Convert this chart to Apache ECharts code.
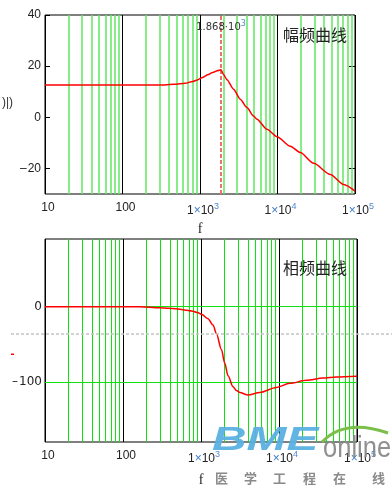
<!DOCTYPE html>
<html><head><meta charset="utf-8">
<script src="https://cdn.jsdelivr.net/npm/echarts@6/dist/echarts.min.js"></script>
<style>html,body{margin:0;padding:0;background:#fff}#c{width:392px;height:488px}</style>
</head><body><div id="c"></div>
<script>
// ---- data ----
const freqMag = [10, 300, 464, 644, 805, 920, 1084, 1258, 1459, 1667, 1868, 2000, 2228, 2710, 3305, 4036, 4913, 5430, 7315, 9860, 14640, 19710, 29300, 48100, 71400, 100000];
const magDb   = [12.6, 12.6, 12.9, 13.3, 14.0, 14.6, 15.6, 16.6, 17.5, 18.2, 18.6, 16.8, 14.7, 11.0, 7.1, 3.8, 0.5, -0.8, -4.7, -7.6, -11.3, -13.8, -18.0, -22.4, -26.3, -28.9];
const freqPh  = [10, 164, 295, 474, 617, 759, 906, 1012, 1230, 1426, 1575, 1827, 2015, 2220, 2572, 2850, 3133, 4005, 5660, 9270, 13720, 22440, 36640, 54450, 100000];
const phaseDeg= [0, 0, -1.4, -2.7, -4.4, -5.7, -7.9, -10, -16, -24.4, -35.7, -57, -75, -92, -106.5, -111.5, -114, -117.5, -114, -107.5, -102, -98, -95, -93.5, -92.5];
const minorGridF = [20,30,40,50,60,70,80,90, 200,300,400,500,600,700,800,900, 2000,3000,4000,5000,6000,7000,8000,9000, 20000,30000,40000,50000,60000,70000,80000,90000];
const magTickLabels = [-20, 0, 20, 40];
const phTickLabels = [-100, 0];
const phGridY = [0, -100];
const peakF = 1868;
const peakLabelY = 35;
const cursorPhase = -36.5;

const chart = echarts.init(document.getElementById('c'), null, {renderer: 'canvas'});
const FONT = 'Liberation Sans';
const xLabelFmt = v => {
  const e = Math.round(Math.log10(v));
  if (e <= 2) return String(Math.round(v));
  return '1{x|×}10{s|' + e + '}';
};
const xRich = {
  x: {color: '#3d7cc9', fontSize: 12, fontFamily: FONT},
  s: {color: '#4f8ad0', fontSize: 9, fontFamily: FONT, padding: [0, 0, 8, 0]}
};
const yFmt = v => v < 0 ? '\u2013\u200a' + (-v) : String(v);

function xAxisCfg(grid, gap) {
  return {
    type: 'log', logBase: 10, min: 10, max: 100000, gridIndex: grid,
    axisLine: {show: false}, axisTick: {show: false},
    splitLine: {show: true, lineStyle: {color: '#000', width: 1}},
    axisLabel: {formatter: xLabelFmt, rich: xRich, color: '#222', fontSize: 12, fontFamily: FONT, margin: 8, padding: [0, 0, 0, 6]},
    name: 'f', nameLocation: 'middle', nameGap: gap,
    nameTextStyle: {fontFamily: 'Liberation Serif', fontSize: 14, color: '#222'}
  };
}

const option = {
  animation: false,
  grid: [
    {left: 45, top: 15, width: 310, height: 179, show: true, borderColor: '#000', borderWidth: 1, backgroundColor: 'transparent'},
    {left: 45, top: 239, width: 312, height: 209, show: true, borderColor: '#000', borderWidth: 1, backgroundColor: 'transparent'}
  ],
  xAxis: [xAxisCfg(0, 28), xAxisCfg(1, 31)],
  yAxis: [
    {type: 'value', gridIndex: 0, min: -30, max: 40, axisLine: {show: false}, splitLine: {show: false},
     axisTick: {show: true, inside: true, length: 5, customValues: magTickLabels, lineStyle: {color: '#000'}},
     axisLabel: {customValues: magTickLabels, formatter: yFmt, color: '#222', fontSize: 12, fontFamily: FONT, margin: 4}},
    {type: 'value', gridIndex: 0, min: -30, max: 40, position: 'right', axisLine: {show: false}, splitLine: {show: false},
     axisTick: {show: true, inside: true, length: 6, customValues: [-20, 0, 20], lineStyle: {color: '#000'}},
     axisLabel: {show: false}},
    {type: 'value', gridIndex: 1, min: -180, max: 90, axisLine: {show: false}, splitLine: {show: false},
     axisTick: {show: false},
     axisLabel: {customValues: phTickLabels, formatter: yFmt, color: '#222', fontSize: 12, fontFamily: 'DejaVu Sans', margin: 3}}
  ],
  series: [
    {type: 'line', xAxisIndex: 0, yAxisIndex: 0, data: [], z: 1, silent: true,
     markLine: {silent: true, symbol: 'none', animation: false, label: {show: false},
       lineStyle: {color: '#5fe85f', width: 1.5, type: 'solid'},
       data: minorGridF.map(v => ({xAxis: v}))}},
    {type: 'line', xAxisIndex: 1, yAxisIndex: 2, data: [], z: 1, silent: true,
     markLine: {silent: true, symbol: 'none', animation: false, label: {show: false},
       lineStyle: {color: '#11e011', width: 1, type: 'solid'},
       data: minorGridF.map(v => ({xAxis: v})).concat(phGridY.map(v => ({yAxis: v})))}},
    {type: 'line', name: 'mag', xAxisIndex: 0, yAxisIndex: 0, z: 5,
     data: freqMag.map((f, i) => [f, magDb[i]]),
     showSymbol: false, smooth: 0.25, smoothMonotone: 'x',
     lineStyle: {color: '#ff0000', width: 1.5}, itemStyle: {color: '#ff0000'},
     markLine: {silent: true, symbol: 'none', animation: false, label: {show: false},
       lineStyle: {color: '#f07070', width: 2, type: [4, 2]},
       data: [{xAxis: peakF}]},
     markPoint: {silent: true, symbol: 'rect', symbolSize: 0, animation: false,
       data: [{coord: [peakF, peakLabelY]}],
       label: {show: true, position: 'inside', color: '#333', fontFamily: 'DejaVu Sans', fontSize: 10,
         formatter: '1.868·10{s|3}',
         rich: {s: {fontSize: 8, color: '#4f8ad0', fontFamily: 'DejaVu Sans', padding: [0, 0, 7, 0]}}}}},
    {type: 'line', name: 'phase', xAxisIndex: 1, yAxisIndex: 2, z: 5,
     data: freqPh.map((f, i) => [f, phaseDeg[i]]),
     showSymbol: false, smooth: 0.3, smoothMonotone: 'x',
     lineStyle: {color: '#ff0000', width: 1.5}, itemStyle: {color: '#ff0000'}}
  ]
};
chart.setOption(option);

const cy = chart.convertToPixel({yAxisIndex: 2}, cursorPhase);
chart.setOption({
  graphic: [
    {type: 'text', left: 283, top: 27, z: 10, style: {text: '幅频曲线', font: '16px "Noto Sans CJK SC"', fill: '#222'}},
    {type: 'text', left: 283, top: 260, z: 10, style: {text: '相频曲线', font: '16px "Noto Sans CJK SC"', fill: '#222'}},
    {type: 'text', left: 2, top: 97, z: 10, style: {text: ')|)', font: '12px "Liberation Sans"', fill: '#333'}},
    {type: 'line', z: 10, shape: {x1: 11, y1: cy, x2: 392, y2: cy}, style: {stroke: '#c4c4c4', lineWidth: 1.5, lineDash: [3, 2]}},
    {type: 'rect', z: 10, shape: {x: 11, y: 353.5, width: 3, height: 1.5}, style: {fill: '#ff0000'}},
    // watermark
    {type: 'text', x: 212, y: 424, z: 20, scaleX: 1.45, style: {text: 'BME', font: 'italic bold 33px "Liberation Sans"', fill: '#5ab0e2', opacity: 0.95}},
    {type: 'bezierCurve', z: 20, shape: {x1: 322, y1: 442, x2: 388, y2: 433, cpx1: 345, cpy1: 418}, style: {stroke: '#7bbf4a', lineWidth: 3, fill: null}},
    {type: 'text', x: 323, y: 434, z: 20, scaleX: 0.88, style: {text: 'online', font: '29px "Liberation Sans"', fill: '#8a8a8a', opacity: 0.95}},
    {type: 'text', x: 215, y: 472, z: 20, style: {text: '医', font: 'bold 13px "Noto Sans CJK SC"', fill: '#8a8a8a'}},
    {type: 'text', x: 244, y: 472, z: 20, style: {text: '学', font: 'bold 13px "Noto Sans CJK SC"', fill: '#8a8a8a'}},
    {type: 'text', x: 273, y: 472, z: 20, style: {text: '工', font: 'bold 13px "Noto Sans CJK SC"', fill: '#8a8a8a'}},
    {type: 'text', x: 303, y: 472, z: 20, style: {text: '程', font: 'bold 13px "Noto Sans CJK SC"', fill: '#8a8a8a'}},
    {type: 'text', x: 333, y: 472, z: 20, style: {text: '在', font: 'bold 13px "Noto Sans CJK SC"', fill: '#8a8a8a'}},
    {type: 'text', x: 372, y: 472, z: 20, style: {text: '线', font: 'bold 13px "Noto Sans CJK SC"', fill: '#8a8a8a'}}
  ]
});
</script></body></html>
